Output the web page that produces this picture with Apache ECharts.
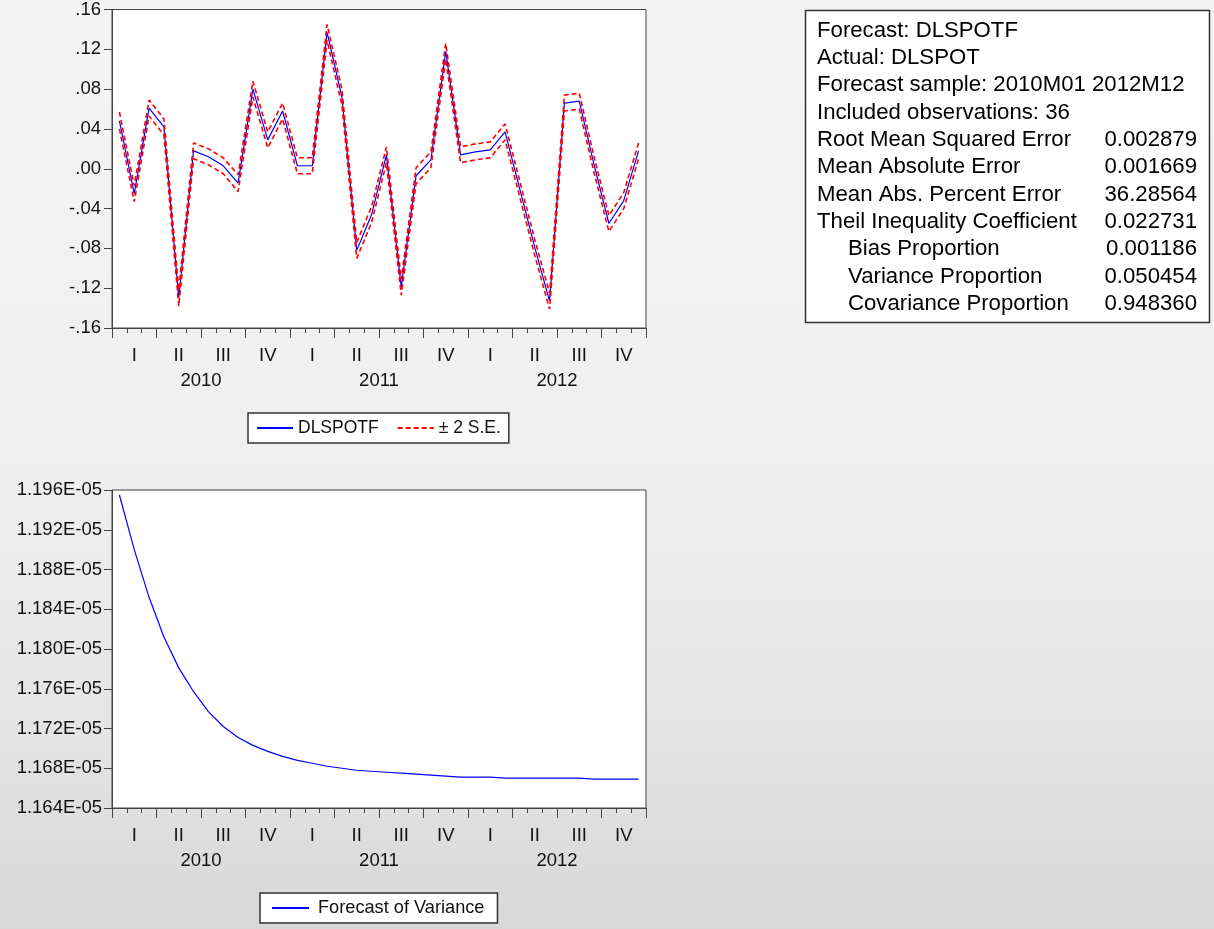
<!DOCTYPE html>
<html>
<head>
<meta charset="utf-8">
<script src="https://cdn.jsdelivr.net/npm/echarts@6/dist/echarts.min.js"></script>
<style>
  html, body { margin: 0; padding: 0; }
  body { background: linear-gradient(#f4f4f4 0%, #efefef 50%, #e6e6e6 75%, #d8d8d8 100%); }
  #main { width: 1214px; height: 929px; }
</style>
</head>
<body>
<div id="main"></div>
<script>
// forecast chart, eviews style
var years = ['2010', '2011', '2012'];
var quarterNames = ['I', 'II', 'III', 'IV'];

// DLSPOTF forecast, monthly 2010M01 - 2012M12
var dlspotf = [0.048, -0.025, 0.061, 0.042, -0.130, 0.018, 0.012, 0.003, -0.0145, 0.080, 0.029, 0.058,
               0.003, 0.003, 0.137, 0.072, -0.082, -0.046, 0.014, -0.119, -0.007, 0.009, 0.118, 0.014,
               0.017, 0.019, 0.037, -0.021, -0.079, -0.133, 0.066, 0.068, 0.004, -0.055, -0.032, 0.018];
// +/- 2 S.E. band
var seUpper = [0.057, -0.017, 0.069, 0.050, -0.122, 0.026, 0.020, 0.011, -0.006, 0.088, 0.037, 0.066,
               0.011, 0.011, 0.145, 0.080, -0.074, -0.038, 0.022, -0.111, 0.001, 0.017, 0.126, 0.022,
               0.025, 0.027, 0.045, -0.013, -0.071, -0.125, 0.074, 0.076, 0.012, -0.047, -0.024, 0.026];
var seLower = [0.040, -0.033, 0.053, 0.034, -0.138, 0.010, 0.004, -0.005, -0.023, 0.072, 0.021, 0.050,
               -0.005, -0.005, 0.129, 0.064, -0.090, -0.054, 0.006, -0.127, -0.015, 0.001, 0.110, 0.006,
               0.009, 0.011, 0.029, -0.029, -0.087, -0.141, 0.058, 0.060, -0.004, -0.063, -0.040, 0.010];
// forecast of variance, in units of 1E-05
var varianceE5 = [1.1955, 1.1900, 1.1852, 1.1812, 1.1781, 1.1757, 1.1737, 1.1722, 1.1711, 1.1703, 1.1697, 1.1692,
                  1.1688, 1.1685, 1.1682, 1.1680, 1.1678, 1.1677, 1.1676, 1.1675, 1.1674, 1.1673, 1.1672, 1.1671,
                  1.1671, 1.1671, 1.1670, 1.1670, 1.1670, 1.1670, 1.1670, 1.1670, 1.1669, 1.1669, 1.1669, 1.1669];

// forecast evaluation table
var statLabels = ['Forecast: DLSPOTF', 'Actual: DLSPOT', 'Forecast sample: 2010M01 2012M12',
                  'Included observations: 36', 'Root Mean Squared Error', 'Mean Absolute Error',
                  'Mean Abs. Percent Error', 'Theil Inequality Coefficient', 'Bias Proportion',
                  'Variance Proportion', 'Covariance Proportion'];
var statValues = ['', '', '', '', '0.002879', '0.001669', '36.28564', '0.022731', '0.001186', '0.050454', '0.948360'];
var statIndent = [0, 0, 0, 0, 0, 0, 0, 0, 1, 1, 1];

var months = [];
years.forEach(function (y) {
    for (var m = 1; m <= 12; m++) months.push(y + 'M' + (m < 10 ? '0' + m : m));
});

var FONT = "'Liberation Sans', Arial, sans-serif";
var AX = '#444';
var AXFS = 18.5;

var myChart = echarts.init(document.getElementById('main'));

function monthAxis(grid) {
    return {
        type: 'category', gridIndex: grid, data: months, boundaryGap: true, position: 'bottom',
        axisLine: { show: true, onZero: false, lineStyle: { color: AX, width: 1 } },
        axisTick: { show: true, interval: 0, length: 5, lineStyle: { color: AX } },
        axisLabel: {
            interval: function (i) { return i % 3 === 1; },
            formatter: function (v, i) { return quarterNames[Math.floor((i % 12) / 3)]; },
            margin: 18, fontSize: AXFS, color: '#111', fontFamily: FONT
        },
        splitLine: { show: false }
    };
}
function quarterTickAxis(grid) {
    return {
        type: 'category', gridIndex: grid, data: months, boundaryGap: true, position: 'bottom',
        axisLine: { show: false, onZero: false },
        axisTick: { show: true, interval: function (i) { return i % 3 === 0; }, length: 10, lineStyle: { color: AX } },
        axisLabel: { show: false },
        splitLine: { show: false }
    };
}
function yearAxis(grid) {
    return {
        type: 'category', gridIndex: grid, data: years, boundaryGap: true, position: 'bottom',
        axisLine: { show: false, onZero: false }, axisTick: { show: false },
        axisLabel: { margin: 43, fontSize: AXFS, color: '#111', fontFamily: FONT },
        splitLine: { show: false }
    };
}

// stats box
var graphics = [{
    type: 'rect', shape: { x: 805.5, y: 10.5, width: 404, height: 312 },
    style: { fill: '#fff', stroke: '#333', lineWidth: 1.5 }, z: 10
}];
statLabels.forEach(function (t, i) {
    var y = 30.7 + i * 27.3;
    graphics.push({
        type: 'text', x: statIndent[i] ? 848 : 817, y: y, z: 11,
        style: { text: t, font: '22.2px ' + FONT, fill: '#000', verticalAlign: 'middle', align: 'left' }
    });
    if (statValues[i]) {
        graphics.push({
            type: 'text', x: 1197, y: y, z: 11,
            style: { text: statValues[i], font: '22.2px ' + FONT, fill: '#000', verticalAlign: 'middle', align: 'right' }
        });
    }
});

var option = {
    animation: false,
    backgroundColor: 'transparent',
    textStyle: { fontFamily: FONT },
    grid: [
        { left: 112, top: 9, width: 534, height: 319, show: true, backgroundColor: '#fff', borderColor: AX, borderWidth: 1, containLabel: false },
        { left: 112, top: 490, width: 534, height: 318, show: true, backgroundColor: '#fff', borderColor: AX, borderWidth: 1, containLabel: false }
    ],
    xAxis: [monthAxis(0), quarterTickAxis(0), yearAxis(0), monthAxis(1), quarterTickAxis(1), yearAxis(1)],
    yAxis: [
        {
            type: 'value', gridIndex: 0, min: -0.16, max: 0.16, interval: 0.04,
            axisLine: { show: true, lineStyle: { color: AX } },
            axisTick: { show: true, length: 8, lineStyle: { color: AX } },
            splitLine: { show: false },
            axisLabel: {
                fontSize: AXFS, color: '#111', fontFamily: FONT, margin: 11,
                formatter: function (v) { return v.toFixed(2).replace('0.', '.'); }
            }
        },
        {
            type: 'value', gridIndex: 1, min: 1.164, max: 1.196, interval: 0.004,
            axisLine: { show: true, lineStyle: { color: AX } },
            axisTick: { show: true, length: 8, lineStyle: { color: AX } },
            splitLine: { show: false },
            axisLabel: {
                fontSize: AXFS, color: '#111', fontFamily: FONT, margin: 10,
                formatter: function (v) { return v.toFixed(3) + 'E-05'; }
            }
        }
    ],
    legend: [
        {
            data: ['DLSPOTF', '± 2 S.E.'], left: 248, top: 413,
            backgroundColor: '#fff', borderColor: '#333', borderWidth: 1.5, borderRadius: 0,
            padding: [6, 8], itemWidth: 36, itemHeight: 14, itemGap: 18,
            itemStyle: { opacity: 0 },
            textStyle: { fontSize: 17.5, color: '#111', fontFamily: FONT }
        },
        {
            data: ['Forecast of Variance'], left: 260, top: 893,
            backgroundColor: '#fff', borderColor: '#333', borderWidth: 1.5, borderRadius: 0,
            padding: [6, 13, 6, 11], itemWidth: 37, itemHeight: 14,
            itemStyle: { opacity: 0 },
            textStyle: { fontSize: 18.2, color: '#111', fontFamily: FONT, padding: [0, 0, 0, 4] }
        }
    ],
    graphic: graphics,
    series: [
        {
            name: 'DLSPOTF', type: 'line', xAxisIndex: 0, yAxisIndex: 0, data: dlspotf,
            symbol: 'none', color: '#0000ff', lineStyle: { color: '#0000ff', width: 1.2 }
        },
        {
            name: '± 2 S.E.', type: 'line', xAxisIndex: 0, yAxisIndex: 0, data: seUpper,
            symbol: 'none', color: '#ff0000', lineStyle: { color: '#ff0000', width: 1.6, type: [5, 3] }
        },
        {
            name: '± 2 S.E.', type: 'line', xAxisIndex: 0, yAxisIndex: 0, data: seLower,
            symbol: 'none', color: '#ff0000', lineStyle: { color: '#ff0000', width: 1.6, type: [5, 3] }
        },
        {
            name: 'Forecast of Variance', type: 'line', xAxisIndex: 3, yAxisIndex: 1, data: varianceE5,
            symbol: 'none', color: '#0000ff', lineStyle: { color: '#0000ff', width: 1.2 }
        }
    ]
};
myChart.setOption(option);
</script>
</body>
</html>
